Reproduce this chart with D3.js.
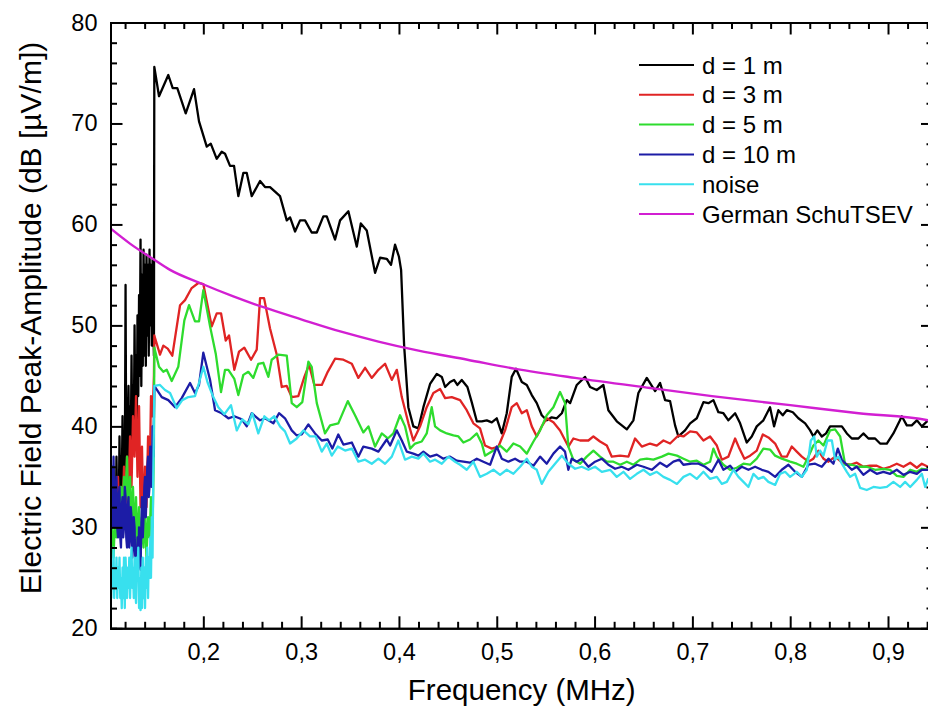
<!DOCTYPE html>
<html>
<head>
<meta charset="utf-8">
<script src="https://cdn.jsdelivr.net/npm/d3@7"></script>
<style>
  body { margin: 0; background: #fff; }
  svg { display: block; font-family: "Liberation Sans", Arial, sans-serif; }
</style>
</head>
<body>
<div id="chart"></div>
<script>
// legend entries and colours
const seriesNames = ['d = 1 m', 'd = 3 m', 'd = 5 m', 'd = 10 m', 'noise', 'German SchuTSEV'];
const seriesColors = ['#000000', '#e02424', '#2edc2e', '#1c1ca6', '#38e0ee', '#d21fd2'];

const xTicks = [0.2, 0.3, 0.4, 0.5, 0.6, 0.7, 0.8, 0.9];
const yTicks = [20, 30, 40, 50, 60, 70, 80];

// [frequency MHz, dB µV/m]
const d1m = [
    [0.1051, 33], [0.1059, 29], [0.1066, 35], [0.1074, 30], [0.1082, 36], [0.1089, 31], [0.1097, 34], [0.1105, 30],
    [0.1112, 37], [0.1120, 32], [0.1128, 35], [0.1135, 31], [0.1143, 39], [0.1151, 33], [0.1158, 37], [0.1166, 34],
    [0.1174, 41], [0.1181, 35], [0.1189, 38], [0.1197, 34], [0.1205, 54], [0.1212, 36], [0.1220, 33], [0.1228, 40],
    [0.1235, 44], [0.1243, 36], [0.1251, 42], [0.1258, 37], [0.1266, 47], [0.1274, 38], [0.1281, 44], [0.1289, 39],
    [0.1297, 50], [0.1304, 41], [0.1312, 47], [0.1320, 40], [0.1327, 51], [0.1335, 43], [0.1343, 53], [0.1350, 45],
    [0.1358, 58.5], [0.1366, 44], [0.1373, 55], [0.1381, 46], [0.1389, 57.5], [0.1397, 47], [0.1404, 56], [0.1412, 46],
    [0.1419, 57], [0.1427, 49], [0.1435, 56], [0.1442, 47], [0.1450, 57.5], [0.1458, 50], [0.1465, 56], [0.1473, 48],
    [0.1481, 56.5], [0.1488, 50], [0.1495, 47],
    [0.1499, 75.6], [0.1547, 72.7], [0.1642, 74.8], [0.1687, 73.5], [0.1734, 73.5], [0.1820, 71.0], [0.1905, 73.4],
    [0.1956, 70.2], [0.2035, 67.7], [0.2076, 68.0], [0.2137, 66.5], [0.2188, 67.2], [0.2222, 67.0], [0.2273, 65.8],
    [0.2314, 65.8], [0.2358, 62.8], [0.2409, 65.1], [0.2444, 65.1], [0.2495, 62.8], [0.2580, 64.3], [0.2631, 63.7],
    [0.2682, 63.7], [0.2784, 62.8], [0.2853, 60.4], [0.2887, 60.7], [0.2938, 59.3], [0.2989, 60.4], [0.3040, 60.4],
    [0.3108, 59.2], [0.3160, 59.2], [0.3227, 60.8], [0.3262, 60.8], [0.3347, 58.5], [0.3398, 60.4], [0.3483, 61.3],
    [0.3569, 57.8], [0.3610, 60.1], [0.3671, 59.4], [0.3756, 55.2], [0.3807, 56.7], [0.3875, 56.6], [0.3919, 56.0],
    [0.3960, 58.0], [0.4000, 56.8], [0.4022, 55.5], [0.4053, 48.0], [0.4096, 41.9], [0.4147, 40.0], [0.4199, 39.8],
    [0.4250, 41.9], [0.4318, 44.2], [0.4387, 45.2], [0.4438, 44.9], [0.4472, 43.9], [0.4523, 44.4], [0.4563, 44.6],
    [0.4597, 44.1], [0.4642, 44.6], [0.4700, 43.9], [0.4744, 42.4], [0.4796, 40.5], [0.4847, 40.5], [0.4898, 40.6],
    [0.4949, 40.4], [0.5000, 40.8], [0.5051, 39.3], [0.5102, 41.3], [0.5153, 44.9], [0.5197, 45.7], [0.5256, 44.4],
    [0.5307, 44.1], [0.5358, 43.1], [0.5409, 42.3], [0.5460, 41.1], [0.5511, 40.6], [0.5562, 40.9], [0.5613, 40.8],
    [0.5665, 41.3], [0.5716, 42.6], [0.5750, 42.3], [0.5818, 44.1], [0.5903, 44.9], [0.5954, 43.9], [0.6022, 43.6],
    [0.6090, 44.1], [0.6141, 41.6], [0.6227, 40.5], [0.6330, 39.7], [0.6397, 40.6], [0.6448, 43.3], [0.6534, 44.8],
    [0.6619, 43.5], [0.6670, 44.3], [0.6721, 42.6], [0.6772, 42.5], [0.6823, 40.1], [0.6857, 39.0], [0.6925, 39.6],
    [0.6977, 40.3], [0.7045, 40.8], [0.7113, 42.4], [0.7164, 42.3], [0.7215, 42.6], [0.7266, 41.4], [0.7317, 41.3],
    [0.7368, 40.6], [0.7437, 41.3], [0.7488, 40.3], [0.7556, 38.4], [0.7607, 39.0], [0.7658, 40.0], [0.7726, 40.6],
    [0.7794, 41.9], [0.7835, 40.0], [0.7879, 41.6], [0.7924, 41.1], [0.7965, 41.6], [0.8027, 41.4], [0.8084, 40.8],
    [0.8153, 40.3], [0.8204, 39.6], [0.8237, 39.0], [0.8278, 39.6], [0.8323, 39.0], [0.8367, 39.3], [0.8408, 40.0],
    [0.8459, 40.0], [0.8528, 40.0], [0.8579, 39.3], [0.8630, 38.8], [0.8697, 38.8], [0.8748, 39.3], [0.8800, 38.8],
    [0.8868, 38.8], [0.8919, 38.3], [0.8988, 38.3], [0.9055, 39.3], [0.9117, 40.5], [0.9141, 41.0], [0.9192, 40.1],
    [0.9243, 40.1], [0.9295, 40.6], [0.9346, 40.0], [0.9410, 40.6], [0.9460, 40.3]
];

const d3m = [
    [0.1051, 29], [0.1066, 33], [0.1082, 30], [0.1097, 34], [0.1112, 31], [0.1128, 35], [0.1143, 30], [0.1158, 34],
    [0.1174, 31], [0.1189, 36], [0.1205, 32], [0.1220, 37], [0.1235, 33], [0.1251, 39], [0.1266, 34], [0.1281, 41],
    [0.1297, 37], [0.1312, 43], [0.1327, 35], [0.1343, 42], [0.1358, 32], [0.1373, 38], [0.1389, 30], [0.1404, 36],
    [0.1419, 32], [0.1435, 39], [0.1450, 34], [0.1465, 43], [0.1481, 41], [0.1495, 45],
    [0.1499, 49.0], [0.1557, 47.1], [0.1591, 48.0], [0.1636, 47.7], [0.1683, 47.0], [0.1762, 52.0], [0.1813, 52.5],
    [0.1881, 53.7], [0.1949, 54.2], [0.2000, 54.1], [0.2086, 49.9], [0.2137, 51.2], [0.2181, 51.2], [0.2229, 48.5],
    [0.2263, 49.0], [0.2317, 45.6], [0.2365, 47.4], [0.2419, 47.8], [0.2488, 46.6], [0.2546, 47.6], [0.2580, 52.7],
    [0.2621, 52.7], [0.2682, 49.7], [0.2751, 47.1], [0.2802, 43.9], [0.2853, 44.0], [0.2904, 42.9], [0.2971, 43.0],
    [0.3033, 44.9], [0.3081, 46.1], [0.3135, 44.1], [0.3211, 44.1], [0.3272, 45.4], [0.3347, 46.7], [0.3432, 46.6],
    [0.3518, 46.2], [0.3585, 44.8], [0.3654, 45.8], [0.3722, 44.8], [0.3790, 45.6], [0.3858, 46.2], [0.3927, 44.6],
    [0.3978, 45.6], [0.4029, 42.9], [0.4097, 40.3], [0.4147, 38.6], [0.4216, 40.0], [0.4284, 41.9], [0.4352, 43.3],
    [0.4421, 43.7], [0.4472, 42.8], [0.4540, 42.9], [0.4625, 42.6], [0.4693, 41.6], [0.4761, 40.3], [0.4829, 39.8],
    [0.4880, 38.1], [0.4949, 37.8], [0.5017, 38.0], [0.5085, 39.6], [0.5153, 41.9], [0.5205, 42.3], [0.5256, 41.3],
    [0.5307, 41.6], [0.5358, 40.0], [0.5409, 39.0], [0.5460, 40.0], [0.5511, 40.8], [0.5579, 40.4], [0.5647, 39.6],
    [0.5732, 38.0], [0.5783, 38.8], [0.5852, 38.6], [0.5937, 38.6], [0.5988, 39.0], [0.6056, 38.5], [0.6125, 38.1],
    [0.6176, 37.0], [0.6261, 37.1], [0.6346, 37.0], [0.6414, 38.8], [0.6483, 38.0], [0.6567, 38.3], [0.6636, 38.1],
    [0.6704, 38.6], [0.6772, 38.3], [0.6857, 39.1], [0.6908, 39.0], [0.6977, 39.5], [0.7045, 39.4], [0.7113, 38.6],
    [0.7181, 39.0], [0.7250, 38.1], [0.7301, 36.7], [0.7368, 37.0], [0.7437, 38.8], [0.7481, 37.8], [0.7532, 36.8],
    [0.7590, 37.1], [0.7658, 37.6], [0.7720, 39.2], [0.7777, 38.9], [0.7846, 38.3], [0.7914, 37.0], [0.7965, 37.0],
    [0.8016, 38.0], [0.8067, 37.5], [0.8119, 37.0], [0.8186, 36.5], [0.8237, 36.8], [0.8289, 37.6], [0.8340, 36.8],
    [0.8391, 36.5], [0.8459, 37.0], [0.8544, 36.3], [0.8613, 36.2], [0.8681, 36.4], [0.8748, 36.0], [0.8817, 36.1],
    [0.8885, 36.1], [0.8953, 35.8], [0.9022, 36.0], [0.9090, 36.3], [0.9158, 36.0], [0.9227, 36.4], [0.9295, 35.9],
    [0.9346, 36.3], [0.9410, 36.0], [0.9460, 36.1]
];

const d5m = [
    [0.1051, 28], [0.1066, 30], [0.1082, 27], [0.1097, 31], [0.1112, 29], [0.1128, 33], [0.1143, 30], [0.1158, 34],
    [0.1174, 32], [0.1189, 35], [0.1205, 33], [0.1220, 37], [0.1235, 31], [0.1251, 35], [0.1266, 30], [0.1281, 34],
    [0.1297, 29], [0.1312, 33], [0.1327, 28], [0.1343, 32], [0.1358, 27], [0.1373, 31], [0.1389, 28], [0.1404, 32],
    [0.1419, 27], [0.1435, 31], [0.1450, 29], [0.1465, 33], [0.1481, 30], [0.1495, 38],
    [0.1499, 47.8], [0.1547, 45.9], [0.1591, 45.4], [0.1626, 45.6], [0.1677, 44.5], [0.1744, 45.9], [0.1806, 50.5],
    [0.1854, 52.0], [0.1915, 50.4], [0.1956, 50.4], [0.2000, 53.5], [0.2069, 49.9], [0.2127, 47.2], [0.2181, 43.4],
    [0.2222, 45.6], [0.2256, 45.6], [0.2317, 44.7], [0.2358, 43.1], [0.2409, 45.1], [0.2460, 45.4], [0.2511, 44.8],
    [0.2562, 46.2], [0.2613, 46.3], [0.2665, 44.9], [0.2699, 46.6], [0.2767, 47.1], [0.2853, 47.0], [0.2904, 42.3],
    [0.2955, 41.9], [0.3012, 42.4], [0.3074, 46.4], [0.3108, 45.9], [0.3160, 42.3], [0.3244, 39.3], [0.3296, 40.1],
    [0.3380, 40.3], [0.3477, 42.5], [0.3551, 41.1], [0.3636, 39.4], [0.3688, 40.0], [0.3756, 38.0], [0.3824, 39.3],
    [0.3886, 38.8], [0.3943, 39.3], [0.4011, 41.1], [0.4062, 40.0], [0.4114, 37.8], [0.4165, 38.3], [0.4233, 38.5],
    [0.4284, 39.3], [0.4335, 41.9], [0.4369, 40.0], [0.4421, 39.6], [0.4489, 39.3], [0.4557, 39.1], [0.4608, 39.0],
    [0.4659, 38.4], [0.4727, 38.7], [0.4796, 39.3], [0.4847, 38.3], [0.4880, 37.1], [0.4966, 37.6], [0.5034, 38.1],
    [0.5102, 37.5], [0.5170, 38.3], [0.5239, 38.0], [0.5307, 37.3], [0.5375, 38.5], [0.5443, 39.6], [0.5511, 41.1],
    [0.5579, 41.9], [0.5647, 43.4], [0.5698, 42.3], [0.5732, 38.0], [0.5783, 36.7], [0.5852, 36.3], [0.5920, 37.0],
    [0.5988, 37.6], [0.6056, 37.0], [0.6125, 36.5], [0.6193, 36.5], [0.6261, 36.2], [0.6330, 36.5], [0.6397, 36.2],
    [0.6466, 36.7], [0.6534, 36.8], [0.6602, 36.7], [0.6688, 37.0], [0.6756, 37.3], [0.6842, 37.1], [0.6909, 36.8],
    [0.6977, 36.5], [0.7045, 36.6], [0.7113, 36.2], [0.7181, 36.5], [0.7215, 37.8], [0.7250, 37.0], [0.7317, 36.2],
    [0.7386, 35.7], [0.7454, 35.9], [0.7522, 36.3], [0.7590, 36.2], [0.7658, 36.8], [0.7726, 37.8], [0.7794, 37.7],
    [0.7846, 37.1], [0.7914, 36.8], [0.7999, 36.5], [0.8067, 36.3], [0.8135, 36.0], [0.8186, 37.0], [0.8237, 38.1],
    [0.8289, 38.6], [0.8340, 38.1], [0.8408, 39.6], [0.8459, 39.7], [0.8511, 39.0], [0.8562, 36.2], [0.8630, 36.2],
    [0.8697, 36.0], [0.8783, 36.0], [0.8868, 35.7], [0.8953, 35.8], [0.9022, 35.7], [0.9090, 35.1], [0.9158, 35.0],
    [0.9227, 35.7], [0.9295, 35.5], [0.9346, 35.8], [0.9410, 35.7], [0.9460, 35.6]
];

const d10m = [
    [0.1051, 35], [0.1059, 31], [0.1066, 36], [0.1074, 30], [0.1082, 37], [0.1089, 32], [0.1097, 30], [0.1105, 34],
    [0.1112, 35], [0.1120, 30], [0.1128, 29], [0.1135, 33], [0.1143, 34], [0.1151, 29], [0.1158, 28], [0.1166, 32],
    [0.1174, 33], [0.1181, 29], [0.1189, 30], [0.1197, 34], [0.1205, 33], [0.1212, 29], [0.1220, 28], [0.1228, 32],
    [0.1235, 33], [0.1243, 28], [0.1251, 29], [0.1258, 32], [0.1266, 31], [0.1274, 27], [0.1281, 28], [0.1289, 31],
    [0.1297, 30], [0.1304, 27], [0.1312, 28], [0.1320, 26], [0.1327, 29], [0.1335, 26], [0.1343, 30], [0.1350, 27],
    [0.1358, 25.8], [0.1366, 30], [0.1373, 33], [0.1381, 29], [0.1389, 31], [0.1397, 34], [0.1404, 35], [0.1412, 31],
    [0.1419, 33], [0.1427, 36], [0.1435, 37], [0.1442, 33], [0.1450, 34], [0.1458, 38], [0.1465, 37], [0.1473, 34],
    [0.1481, 40], [0.1488, 37], [0.1495, 41],
    [0.1499, 44.0], [0.1575, 42.9], [0.1642, 42.6], [0.1711, 41.9], [0.1779, 42.8], [0.1864, 44.3], [0.1915, 43.3],
    [0.1956, 44.1], [0.2000, 47.3], [0.2069, 44.6], [0.2120, 41.6], [0.2188, 41.3], [0.2256, 40.8], [0.2317, 41.0],
    [0.2393, 40.7], [0.2444, 40.0], [0.2495, 41.3], [0.2580, 40.6], [0.2631, 40.8], [0.2716, 40.3], [0.2774, 41.3],
    [0.2835, 40.8], [0.2904, 39.6], [0.2955, 39.1], [0.3006, 39.2], [0.3074, 40.2], [0.3142, 39.3], [0.3211, 38.6],
    [0.3272, 38.7], [0.3319, 37.8], [0.3380, 39.2], [0.3432, 38.2], [0.3518, 38.4], [0.3585, 37.0], [0.3636, 38.0],
    [0.3722, 37.8], [0.3790, 37.5], [0.3875, 38.7], [0.3910, 38.1], [0.3978, 39.6], [0.4029, 38.6], [0.4080, 37.5],
    [0.4147, 37.3], [0.4199, 37.1], [0.4250, 37.5], [0.4318, 37.0], [0.4387, 37.2], [0.4454, 36.8], [0.4523, 37.0],
    [0.4591, 36.6], [0.4659, 36.5], [0.4727, 36.4], [0.4796, 36.8], [0.4863, 36.5], [0.4932, 36.2], [0.5000, 38.0],
    [0.5051, 36.8], [0.5119, 36.5], [0.5187, 36.8], [0.5239, 36.5], [0.5307, 36.5], [0.5375, 36.1], [0.5443, 37.0],
    [0.5511, 36.3], [0.5579, 37.3], [0.5647, 38.0], [0.5698, 37.5], [0.5732, 35.7], [0.5767, 36.8], [0.5818, 36.5],
    [0.5869, 36.8], [0.5937, 36.0], [0.6005, 36.5], [0.6074, 36.8], [0.6141, 36.2], [0.6210, 35.8], [0.6278, 36.0],
    [0.6346, 35.7], [0.6432, 36.2], [0.6500, 36.0], [0.6585, 35.7], [0.6670, 36.4], [0.6738, 36.0], [0.6806, 36.5],
    [0.6867, 36.7], [0.6908, 36.2], [0.6994, 36.3], [0.7063, 36.3], [0.7130, 36.0], [0.7198, 35.5], [0.7266, 36.7],
    [0.7317, 35.7], [0.7386, 36.1], [0.7437, 35.5], [0.7505, 36.0], [0.7573, 35.7], [0.7641, 36.0], [0.7710, 35.7],
    [0.7777, 35.5], [0.7846, 35.0], [0.7914, 35.7], [0.7982, 36.2], [0.8050, 35.5], [0.8119, 35.0], [0.8186, 36.2],
    [0.8255, 36.3], [0.8323, 36.0], [0.8391, 36.8], [0.8442, 36.3], [0.8487, 37.8], [0.8528, 36.7], [0.8579, 36.2],
    [0.8630, 35.7], [0.8681, 36.0], [0.8748, 35.2], [0.8817, 35.7], [0.8885, 35.3], [0.8953, 35.5], [0.9022, 35.3],
    [0.9090, 35.7], [0.9158, 35.2], [0.9227, 35.5], [0.9295, 35.3], [0.9346, 35.7], [0.9410, 35.7], [0.9460, 35.6]
];

const noise = [
    [0.1051, 27], [0.1059, 23], [0.1066, 26], [0.1074, 24], [0.1082, 28], [0.1089, 23], [0.1097, 26], [0.1105, 24],
    [0.1112, 27], [0.1120, 23], [0.1128, 26], [0.1135, 24], [0.1143, 27], [0.1151, 23], [0.1158, 25], [0.1166, 22],
    [0.1174, 26], [0.1181, 23], [0.1189, 27], [0.1197, 22], [0.1205, 27], [0.1212, 25], [0.1220, 23], [0.1228, 26],
    [0.1235, 24], [0.1243, 27], [0.1251, 23], [0.1258, 26], [0.1266, 28], [0.1274, 24], [0.1281, 26], [0.1289, 23],
    [0.1297, 27], [0.1304, 24], [0.1312, 22.5], [0.1320, 27], [0.1327, 25], [0.1335, 28], [0.1343, 22], [0.1350, 25],
    [0.1358, 21.8], [0.1366, 26], [0.1373, 22], [0.1381, 27], [0.1389, 23], [0.1397, 26], [0.1404, 22], [0.1412, 27],
    [0.1419, 24], [0.1427, 28], [0.1435, 23], [0.1442, 27], [0.1450, 25], [0.1458, 29], [0.1465, 25], [0.1473, 31],
    [0.1481, 27], [0.1488, 35], [0.1495, 40],
    [0.1499, 44.0], [0.1557, 44.1], [0.1608, 43.6], [0.1660, 43.3], [0.1728, 41.8], [0.1785, 42.6], [0.1847, 42.9],
    [0.1915, 43.0], [0.1956, 44.3], [0.2000, 45.9], [0.2045, 44.3], [0.2102, 42.9], [0.2153, 41.9], [0.2215, 41.2],
    [0.2283, 42.1], [0.2342, 39.6], [0.2399, 40.7], [0.2460, 40.2], [0.2501, 41.3], [0.2562, 39.3], [0.2624, 41.0],
    [0.2672, 40.6], [0.2726, 41.0], [0.2784, 40.0], [0.2835, 39.5], [0.2887, 38.3], [0.2955, 38.8], [0.3023, 39.6],
    [0.3091, 39.0], [0.3149, 39.0], [0.3211, 37.5], [0.3262, 38.3], [0.3313, 37.1], [0.3374, 38.0], [0.3449, 37.6],
    [0.3518, 37.8], [0.3585, 36.5], [0.3654, 36.7], [0.3722, 36.3], [0.3790, 36.8], [0.3858, 36.3], [0.3927, 37.0],
    [0.3994, 38.6], [0.4062, 36.7], [0.4131, 37.0], [0.4199, 36.8], [0.4250, 37.3], [0.4318, 36.5], [0.4370, 36.7],
    [0.4438, 36.3], [0.4505, 37.0], [0.4574, 36.5], [0.4625, 36.2], [0.4693, 35.7], [0.4761, 36.5], [0.4829, 35.0],
    [0.4898, 35.3], [0.4966, 35.7], [0.5034, 35.2], [0.5102, 35.7], [0.5170, 35.3], [0.5239, 36.0], [0.5307, 36.8],
    [0.5358, 36.0], [0.5409, 35.7], [0.5460, 34.3], [0.5528, 35.5], [0.5596, 36.3], [0.5665, 37.1], [0.5732, 36.3],
    [0.5801, 35.8], [0.5869, 36.0], [0.5937, 35.7], [0.6005, 36.0], [0.6074, 35.5], [0.6159, 35.7], [0.6227, 35.0],
    [0.6295, 35.5], [0.6363, 34.8], [0.6432, 35.3], [0.6500, 35.7], [0.6567, 35.2], [0.6636, 35.5], [0.6704, 35.0],
    [0.6772, 34.7], [0.6842, 34.3], [0.6909, 35.0], [0.6977, 35.3], [0.7045, 34.8], [0.7113, 35.5], [0.7181, 34.8],
    [0.7250, 35.0], [0.7301, 34.3], [0.7352, 34.5], [0.7420, 35.7], [0.7471, 35.0], [0.7522, 34.5], [0.7573, 34.0],
    [0.7624, 35.3], [0.7675, 34.8], [0.7726, 35.0], [0.7777, 34.5], [0.7846, 34.2], [0.7897, 35.3], [0.7948, 35.5],
    [0.7999, 35.0], [0.8067, 35.5], [0.8119, 35.0], [0.8170, 35.7], [0.8211, 38.6], [0.8245, 39.0], [0.8272, 37.0],
    [0.8306, 37.6], [0.8340, 37.1], [0.8381, 38.6], [0.8426, 38.6], [0.8459, 36.7], [0.8494, 37.0], [0.8528, 36.3],
    [0.8579, 35.5], [0.8613, 35.0], [0.8664, 35.3], [0.8715, 33.9], [0.8783, 33.7], [0.8851, 34.0], [0.8919, 33.9],
    [0.8988, 34.0], [0.9055, 34.5], [0.9124, 34.0], [0.9175, 34.5], [0.9227, 34.0], [0.9295, 34.7], [0.9346, 35.3],
    [0.9380, 34.0], [0.9410, 34.8], [0.9460, 34.6]
];

const schutsev = [
    [0.1051, 59.6], [0.125, 58.1], [0.1499, 56.5], [0.166, 55.5], [0.1966, 54.2], [0.23, 52.9], [0.2614, 51.8],
    [0.30, 50.6], [0.34, 49.4], [0.379, 48.4], [0.42, 47.5], [0.47, 46.6], [0.519, 45.7], [0.58, 44.8],
    [0.6567, 43.8], [0.72, 43.0], [0.80, 42.1], [0.87, 41.3], [0.941, 40.6], [0.946, 40.5]
];

const allSeries = [d1m, d3m, d5m, d10m, noise, schutsev];

function drawChart() {
    const w = 928;
    const h = 715;
    const left = 110.5, right = 933, top = 22.5, bottom = 628.3;

    const svg = d3.select('#chart')
        .append('svg')
        .attr('width', w)
        .attr('height', h);

    const xScale = d3.scaleLinear().domain([0.1051, 0.946]).range([left, right]);
    const yScale = d3.scaleLinear().domain([20, 80]).range([bottom, top]);

    const xMinor = d3.range(0.12, 0.95, 0.02).filter(v => Math.abs(v * 10 - Math.round(v * 10)) > 0.01);
    const yMinor = d3.range(22, 80, 2).filter(v => v % 10 !== 0);
    const comma = (d) => d3.format('.1f')(d).replace('.', ',');

    svg.append('clipPath').attr('id', 'plotClip')
        .append('rect')
        .attr('x', left).attr('y', top)
        .attr('width', right - left).attr('height', bottom - top);

    // data lines, in legend order
    const line = d3.line().x(d => xScale(d[0])).y(d => yScale(d[1]));
    const curve = d3.line().x(d => xScale(d[0])).y(d => yScale(d[1])).curve(d3.curveMonotoneX);

    svg.append('g')
        .attr('clip-path', 'url(#plotClip)')
        .selectAll('path')
        .data(allSeries)
        .enter()
        .append('path')
        .attr('d', (d, i) => i === 5 ? curve(d) : line(d))
        .attr('fill', 'none')
        .attr('stroke', (d, i) => seriesColors[i])
        .attr('stroke-width', (d, i) => i === 5 ? 2.4 : 2.3)
        .attr('stroke-linejoin', 'round');

    // axes on all four sides, ticks pointing inward
    const addAxis = (axis, tx, ty, labels) => {
        const g = svg.append('g')
            .attr('transform', 'translate(' + tx + ',' + ty + ')')
            .call(axis);
        g.selectAll('path, line').attr('stroke', '#000').attr('stroke-width', 2);
        g.selectAll('text')
            .attr('fill', '#000')
            .style('font-size', '23.5px')
            .style('font-family', '"Liberation Sans", Arial, sans-serif');
        if (!labels) g.selectAll('text').remove();
        return g;
    };

    addAxis(d3.axisBottom(xScale).tickValues(xTicks).tickSizeInner(-12).tickSizeOuter(0).tickPadding(15).tickFormat(comma), 0, bottom, true);
    addAxis(d3.axisBottom(xScale).tickValues(xMinor).tickSize(-6.5).tickFormat(''), 0, bottom, false);
    addAxis(d3.axisTop(xScale).tickValues(xTicks).tickSizeInner(-12).tickSizeOuter(0), 0, top, false);
    addAxis(d3.axisTop(xScale).tickValues(xMinor).tickSize(-6.5).tickFormat(''), 0, top, false);

    addAxis(d3.axisLeft(yScale).tickValues(yTicks).tickSizeInner(-12).tickSizeOuter(0).tickPadding(13), left, 0, true);
    addAxis(d3.axisLeft(yScale).tickValues(yMinor).tickSize(-6.5).tickFormat(''), left, 0, false);
    addAxis(d3.axisRight(yScale).tickValues(yTicks).tickSizeInner(-12).tickSizeOuter(0), right, 0, false);
    addAxis(d3.axisRight(yScale).tickValues(yMinor).tickSize(-6.5).tickFormat(''), right, 0, false);

    // axis titles
    svg.append('text')
        .attr('x', (left + right) / 2)
        .attr('y', 700)
        .attr('text-anchor', 'middle')
        .style('font-size', '29.5px')
        .text('Frequency (MHz)');

    svg.append('text')
        .attr('transform', 'translate(41,318) rotate(-90)')
        .attr('text-anchor', 'middle')
        .style('font-size', '30px')
        .text('Electric Field Peak-Amplitude (dB [µV/m])');

    // legend
    const legend = svg.append('g')
        .selectAll('g')
        .data(seriesNames)
        .enter()
        .append('g')
        .attr('transform', (d, i) => 'translate(639,' + (65 + i * 29.8) + ')');

    legend.append('line')
        .attr('x1', 0).attr('x2', 55)
        .attr('stroke', (d, i) => seriesColors[i])
        .attr('stroke-width', 2);

    legend.append('text')
        .attr('x', 63)
        .attr('dy', '0.36em')
        .style('font-size', '24px')
        .text(d => d);
}

drawChart();
</script>
</body>
</html>
